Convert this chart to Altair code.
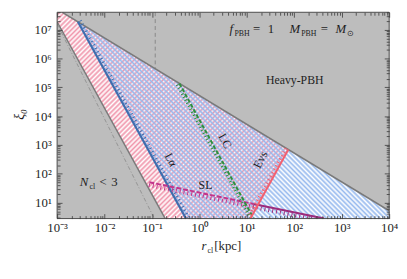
import json
import altair as alt
import pandas as pd

SERIF = "Liberation Serif"

# ---------------- data (r in kpc, xi dimensionless) ----------------
x_domain = [1e-3, 1e4]
y_domain = [2.78, 4.07e7]

x_tick_values = [1e-3, 1e-2, 1e-1, 1e0, 1e1, 1e2, 1e3, 1e4]
x_tick_labels = ["10⁻³", "10⁻²", "10⁻¹", "10⁰", "10¹", "10²", "10³", "10⁴"]
y_tick_values = [1e1, 1e2, 1e3, 1e4, 1e5, 1e6, 1e7]
y_tick_labels = ["10¹", "10²", "10³", "10⁴", "10⁵", "10⁶", "10⁷"]

# allowed (non grey) wedge and hatched regions, polygon vertices
allowed_r = [1e-3, 1e-3, 1.28e-3, 1e4, 1e4, 0.19]
allowed_xi = [1.9e7, 4.07e7, 4.07e7, 5.2, 2.78, 2.78]
pink_r = [1e-3, 1e-3, 1.28e-3, 74.9, 11.9, 0.19]
pink_xi = [1.9e7, 4.07e7, 4.07e7, 694, 2.78, 2.78]
blue_r = [2.74e-3, 1e4, 1e4, 0.52]
blue_xi = [1.9e7, 5.2, 2.78, 2.78]

# boundary / constraint lines
heavy_r = [1.28e-3, 1e4]
heavy_xi = [4.07e7, 5.2]
ncl_r = [1e-3, 0.19]
ncl_xi = [1.9e7, 2.78]
dashdot_r = [1e-3, 0.112]
dashdot_xi = [1.6e7, 2.78]
vline_r = [0.117, 0.117]
vline_xi = [4.07e7, 4.4e5]
lya_r = [2.74e-3, 0.52]
lya_xi = [1.9e7, 2.78]
lc_r = [0.378, 13.9]
lc_xi = [1.376e5, 2.78]
evs_r = [74.9, 11.9]
evs_xi = [694, 2.78]
sl_dash_r = [0.0883, 13.8]
sl_dash_xi = [51, 8.97]
sl_solid_r = [13.8, 425]
sl_solid_xi = [8.97, 2.78]

# single labels
label_text = ["Heavy-PBH", "Lα", "SL", "LC", "Evs"]
label_r = [102, 0.252, 1.34, 3.47, 19.3]
label_xi = [1.8e5, 309, 40, 1377, 309]
label_angle = [0, 61, 0, 61, 298]

# composite labels: (text, dx, dy, size, style)
param_r, param_xi = 4.3, 7.8e6
param_pieces = [("f", 0, 0, 13, "italic"), ("PBH", 5, 3, 8, "normal"), ("=", 24, 0, 13, "normal"),
                ("1", 39, 0, 13, "normal"), ("M", 61, 0, 13, "italic"), ("PBH", 73, 3, 8, "normal"),
                ("=", 93, 0, 13, "normal"), ("M", 108, 0, 13, "italic"), ("⊙", 120, 3, 8, "normal")]
ncl_lab_r, ncl_lab_xi = 3.0e-3, 37
ncl_pieces = [("N", 0, 0, 13, "italic"), ("cl", 10, 3, 8, "normal"), ("<", 20, 0, 13, "normal"),
              ("3", 32, 0, 13, "normal")]

# ---------------- helpers ----------------
xs = alt.Scale(type="log", domain=x_domain, nice=False)
ys = alt.Scale(type="log", domain=y_domain, nice=False)


def X(f="r"):
    return alt.X(f"{f}:Q", scale=xs, axis=None)


def Y(f="xi"):
    return alt.Y(f"{f}:Q", scale=ys, axis=None)


def frame(rs, xis):
    return pd.DataFrame({"r": rs, "xi": xis, "i": list(range(len(rs)))})


def hatch(rgb, n, x1, y1, x2, y2):
    """Soft stripes: transparent -> colour -> transparent in every period."""
    on = "rgb(%d,%d,%d)" % rgb
    off = "rgba(%d,%d,%d,0)" % rgb
    stops = []
    for i in range(n):
        stops += [alt.GradientStop(offset=round(i / n, 6), color=off),
                  alt.GradientStop(offset=round((i + 0.5) / n, 6), color=on)]
    stops.append(alt.GradientStop(offset=1, color=off))
    return alt.LinearGradient(gradient="linear", stops=stops, x1=x1, y1=y1, x2=x2, y2=y2)


def poly(rs, xis, fill):
    return alt.Chart(frame(rs, xis)).mark_line(fill=fill, strokeWidth=0, strokeOpacity=0).encode(
        x=X(), y=Y(), order="i:Q")


def line(rs, xis, color, width, dash=None, xo=0.0, yo=0.0):
    kw = dict(color=color, strokeWidth=width, clip=True)
    if dash:
        kw["strokeDash"] = dash
    if xo:
        kw["xOffset"] = xo
    if yo:
        kw["yOffset"] = yo
    return alt.Chart(frame(rs, xis)).mark_line(**kw).encode(x=X(), y=Y(), order="i:Q")


def pieces(r, xi, parts):
    out = []
    for txt, dx, dy, size, style in parts:
        df = pd.DataFrame({"r": [r], "xi": [xi], "t": [txt]})
        out.append(alt.Chart(df).mark_text(font=SERIF, fontSize=size, fontStyle=style, dx=dx, dy=dy,
                                           align="left", baseline="alphabetic", color="#1e1e1e").encode(
            x=X(), y=Y(), text="t:N"))
    return out


def pixel_text(txt, x, y, size, style="normal", align="left", baseline="alphabetic", angle=0):
    df = pd.DataFrame({"t": [txt]})
    return alt.Chart(df).mark_text(font=SERIF, fontSize=size, fontStyle=style, align=align,
                                   baseline=baseline, angle=angle, color="#1e1e1e").encode(
        x=alt.value(x), y=alt.value(y), text="t:N")


def minor(decades_lo, decades_hi, lo, hi):
    vals = []
    for k in range(decades_lo, decades_hi + 1):
        for m in range(2, 10):
            v = m * 10.0 ** k
            if lo <= v <= hi:
                vals.append(v)
    return vals


x_minor = minor(-3, 3, *x_domain)
y_minor = minor(0, 7, *y_domain)

x_label_expr = json.dumps(x_tick_labels, ensure_ascii=False) + "[round(log(datum.value)/LN10)+3]"
y_label_expr = json.dumps(y_tick_labels, ensure_ascii=False) + "[round(log(datum.value)/LN10)-1]"

AX = dict(domain=False, grid=False, title=None, tickColor="#3a3a3a", tickWidth=0.8, zindex=1)


def axis_layer(xa, ya):
    df = pd.DataFrame({"r": [1.0], "xi": [100.0]})
    return alt.Chart(df).mark_point(opacity=0).encode(
        x=alt.X("r:Q", scale=xs, axis=xa), y=alt.Y("xi:Q", scale=ys, axis=ya))


axes = [
    axis_layer(
        alt.Axis(orient="bottom", values=x_tick_values, offset=-5, tickSize=5, labelExpr=x_label_expr,
                 labelFont=SERIF, labelFontSize=13, labelPadding=3, labelColor="#1e1e1e",
                 labelFlush=False, labelOverlap=False, **AX),
        alt.Axis(orient="left", values=y_tick_values, offset=-5, tickSize=5, labelExpr=y_label_expr,
                 labelFont=SERIF, labelFontSize=13, labelPadding=6, labelColor="#1e1e1e",
                 labelOverlap=False, **AX)),
    axis_layer(alt.Axis(orient="bottom", values=x_minor, offset=-3, tickSize=3, labels=False, **AX),
               alt.Axis(orient="left", values=y_minor, offset=-3, tickSize=3, labels=False, **AX)),
    axis_layer(alt.Axis(orient="top", values=x_tick_values, offset=-5, tickSize=5, labels=False, **AX),
               alt.Axis(orient="right", values=y_tick_values, offset=-5, tickSize=5, labels=False, **AX)),
    axis_layer(alt.Axis(orient="top", values=x_minor, offset=-3, tickSize=3, labels=False, **AX),
               alt.Axis(orient="right", values=y_minor, offset=-3, tickSize=3, labels=False, **AX)),
]

PINK = (240, 150, 172)
BLUE = (150, 185, 238)

layers = [
    poly(allowed_r, allowed_xi, "white"),
    poly(pink_r, pink_xi, hatch(PINK, 85, 0, 0, 1, 0.893)),
    poly(blue_r, blue_xi, hatch(BLUE, 90, 0, 1, 1, 0.369)),
    line(heavy_r, heavy_xi, "#7a7a7a", 1.5),
    line(ncl_r, ncl_xi, "#7a7a7a", 1.5),
    line(dashdot_r, dashdot_xi, "#8a8a8a", 0.8, dash=[4, 2, 1, 2]),
    line(vline_r, vline_xi, "#7a7a7a", 0.8, dash=[4, 3]),
    # Lyman-alpha
    line(lya_r, lya_xi, "#3e6eae", 3, dash=[1, 3], xo=2.5, yo=-1.4),
    line(lya_r, lya_xi, "#3e6eae", 2.2),
    # SL
    line(sl_dash_r, sl_dash_xi, "#c2338a", 4, dash=[1, 3], xo=-0.6, yo=3.0),
    line(sl_dash_r, sl_dash_xi, "#c2338a", 2, dash=[5, 2]),
    line(sl_solid_r, sl_solid_xi, "#9c2a7c", 4, dash=[1, 3], xo=-0.6, yo=3.0),
    line(sl_solid_r, sl_solid_xi, "#9c2a7c", 2),
    # LC
    line(lc_r, lc_xi, "#2f8f3e", 3, dash=[1, 2.5], xo=-2.3, yo=1.3),
    line(lc_r, lc_xi, "#2f8f3e", 2, dash=[4, 2]),
    # Evs
    line(evs_r, evs_xi, "#f2606f", 3, dash=[1, 3], xo=-2.3, yo=-1.3),
    line(evs_r, evs_xi, "#f2606f", 2),
]

labels_df = pd.DataFrame({"r": label_r, "xi": label_xi, "t": label_text, "a": label_angle})
layers.append(alt.Chart(labels_df).mark_text(font=SERIF, fontSize=12, align="center", baseline="middle",
                                             color="#1e1e1e").encode(
    x=X(), y=Y(), text="t:N", angle=alt.Angle("a:Q", scale=None)))
layers += pieces(param_r, param_xi, param_pieces)
layers += pieces(ncl_lab_r, ncl_lab_xi, ncl_pieces)

# axis titles
layers.append(pixel_text("r", 147, 242, 13, style="italic"))
layers.append(pixel_text("cl", 153, 245, 8))
layers.append(pixel_text("[kpc]", 160, 242, 13))
layers.append(pixel_text("ξ₀", -38, 104, 14, style="italic", align="center", baseline="middle", angle=270))

# frame on top
frame_df = pd.DataFrame({"r0": [x_domain[0]], "r1": [x_domain[1]], "y0": [y_domain[0]], "y1": [y_domain[1]]})
layers.append(alt.Chart(frame_df).mark_rect(fillOpacity=0, stroke="#4a4a4a", strokeWidth=1).encode(
    x=X("r0"), x2="r1:Q", y=Y("y0"), y2="y1:Q"))

layers += axes

chart = alt.layer(*layers).resolve_axis(x="independent", y="independent").properties(
    width=338, height=210,
    autosize=alt.AutoSizeParams(type="none"),
    padding={"left": 50, "top": 2, "right": 10, "bottom": 50},
).configure_view(fill="#bdbdbd", stroke=None)

chart.save("out.html", embed_options={"renderer": "svg", "actions": False})
